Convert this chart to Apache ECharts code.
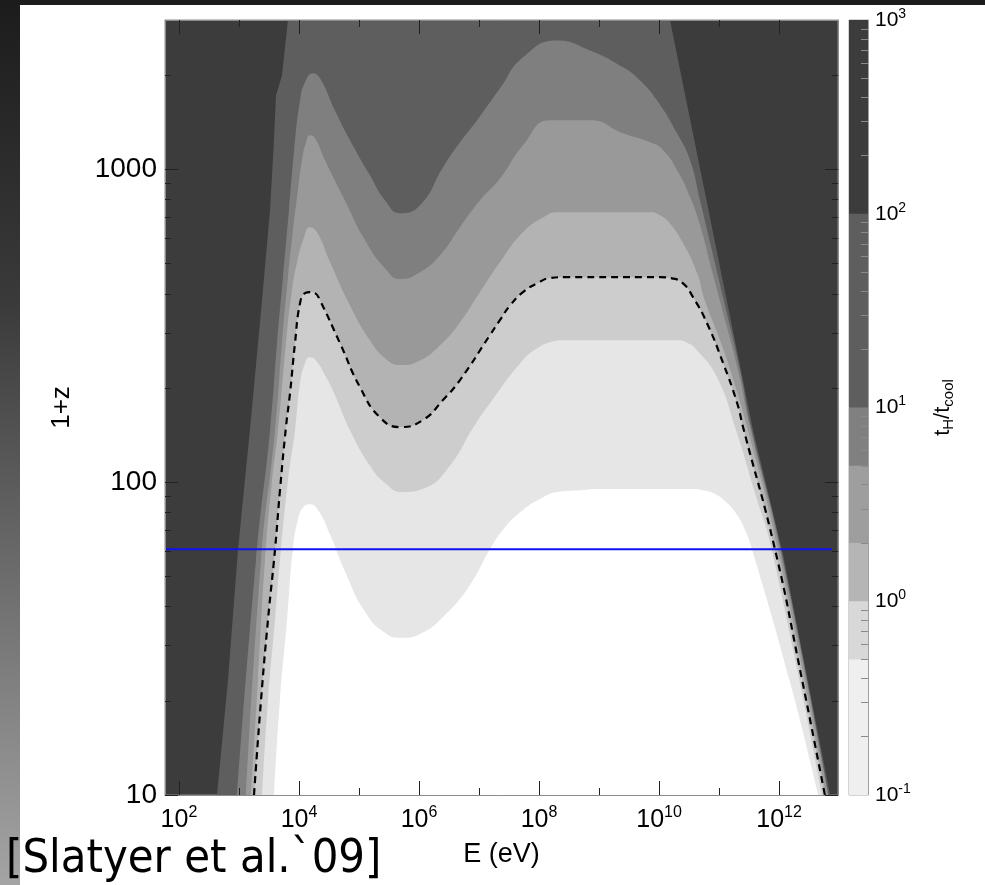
<!DOCTYPE html>
<html>
<head>
<meta charset="utf-8">
<script src="https://cdn.jsdelivr.net/npm/echarts@6/dist/echarts.min.js"></script>
<style>
  html, body { margin: 0; padding: 0; width: 985px; height: 885px; overflow: hidden;
    background: linear-gradient(to bottom, #1c1c1c 0%, #3a3a3a 34%, #5c5c5c 55%, #a4a4a4 100%); }
  #panel { position: absolute; left: 20px; top: 5px; width: 965px; height: 880px; background: #ffffff; }
  #chart { position: absolute; left: 0; top: 0; width: 985px; height: 885px; }
</style>
</head>
<body>
<div id="panel"></div>
<div id="chart"></div>
<script>
// Axis ranges and tick values
const energyMin = 58.5, energyMax = 9.6e12;
const redshiftMin = 10, redshiftMax = 3000;
const energyLabelTicks = [1e2, 1e4, 1e6, 1e8, 1e10, 1e12];
const energyMinorTicks = [1e3, 1e5, 1e7, 1e9, 1e11];
const redshiftLabelTicks = [10, 100, 1000];
const redshiftMinorTicks = [20, 30, 40, 50, 60, 70, 80, 90, 200, 300, 400, 500, 600, 700, 800, 900, 2000];
const ratioLabelTicks = [0.1, 1, 10, 100, 1000];
const ratioMinorTicks = [0.2, 0.3, 0.4, 0.5, 0.6, 0.7, 0.8, 0.9, 2, 3, 4, 5, 6, 7, 8, 9,
  20, 30, 40, 50, 60, 70, 80, 90, 200, 300, 400, 500, 600, 700, 800, 900];
// Contour levels of t_H / t_cool shown in the colour bar
const ratioLevels = [0.1, 0.5, 1, 2, 5, 10, 100, 1000];

// Contours of t_H / t_cool as [E (eV), 1+z] points
const contour100 = [[430, 10], [656, 23.3], [962, 60.7], [1520, 146.6], [2420, 381], [3290, 740],
  [3830, 1239], [4140, 1722], [5200, 1995], [6550, 3000], [1.52e10, 3000], [3.69e11, 146.6],
  [1.17e12, 58.5], [7.1e12, 10]];
const contour10 = [[926, 10], [1920, 56.4], [3290, 146.6], [4300, 278], [5400, 452], [6800, 740],
  [8300, 1151], [1.04e4, 1660], [1.26e4, 1897], [1.71e4, 2028], [2.24e4, 1955], [3.98e4, 1542],
  [7.08e4, 1239], [1.52e5, 957], [2.71e5, 796], [4.82e5, 723], [1.04e6, 767], [2.51e6, 1014],
  [4.82e6, 1219], [9.3e6, 1435], [2.24e7, 1815], [5.4e7, 2280], [2.0e8, 2582], [7.1e8, 2399],
  [2.51e9, 2119], [4.82e9, 1923], [9.3e9, 1660], [2.0e10, 1303], [3.29e10, 1069], [4.82e10, 796],
  [7.6e10, 551], [1.31e11, 355], [2.24e11, 228], [3.41e11, 150], [1.08e12, 60.7], [6.7e12, 10]];
const contour5 = [[1310, 10], [2330, 56.4], [3980, 146.6], [5200, 278], [6550, 452], [7940, 638],
  [9600, 857], [1.12e4, 1069], [1.31e4, 1219], [1.52e4, 1285], [1.85e4, 1256], [2.71e4, 1069],
  [5.8e4, 796], [1.26e5, 593], [2.71e5, 483], [4.82e5, 446], [1.04e6, 469], [2.24e6, 531],
  [4.82e6, 653], [1.04e7, 796], [2.24e7, 935], [5.4e7, 1194], [1.52e8, 1435], [7.1e8, 1435],
  [2.51e9, 1303], [7.1e9, 1219], [1.17e10, 1151], [2.0e10, 993], [3.29e10, 815], [4.82e10, 662],
  [7.6e10, 475], [1.26e11, 330], [2.07e11, 228], [3.29e11, 150], [1.04e12, 60.7], [6.6e12, 10]];
const contour2 = [[1580, 10], [2070, 23.3], [2710, 56.4], [3550, 101], [4470, 146.6], [6070, 278],
  [7640, 410], [9300, 505], [1.17e4, 593], [1.52e4, 653], [2.0e4, 629], [3.29e4, 505], [7.08e4, 367],
  [1.52e5, 284], [2.71e5, 249], [4.82e5, 237], [1.04e6, 245], [2.24e6, 274], [4.82e6, 324],
  [1.04e7, 405], [2.24e7, 505], [5.4e7, 629], [1.26e8, 708], [2.0e8, 729], [7.1e9, 729],
  [1.04e10, 713], [1.52e10, 671], [2.51e10, 581], [4.3e10, 466], [5.8e10, 381], [1.04e11, 284],
  [1.85e11, 204], [2.93e11, 150], [9.6e11, 60.7], [6.1e12, 10]];
const contour1 = [[1780, 10], [2330, 20.1], [3040, 36.2], [3980, 60.7], [4820, 94.2], [6070, 150],
  [7080, 192], [8580, 278], [1.04e4, 373], [1.26e4, 402], [1.52e4, 405], [1.85e4, 402], [2.24e4, 381],
  [4.82e4, 278], [1.04e5, 201], [2.24e5, 161], [4.82e5, 150], [1.17e6, 158], [2.51e6, 183],
  [4.82e6, 212], [1.52e7, 295], [2.24e7, 330], [3.29e7, 367], [5.4e7, 405], [9.3e7, 432],
  [1.52e8, 449], [2.71e8, 452], [1.04e10, 452], [1.65e10, 448], [2.51e10, 432], [3.69e10, 390],
  [6.3e10, 322], [1.17e11, 240], [2.0e11, 179], [2.51e11, 150], [8.6e11, 60.7], [2.24e12, 25.1],
  [5.8e12, 10]];
const contour05 = [[2420, 10], [3040, 20.1], [3980, 36.2], [4820, 56.4], [6550, 101], [8580, 146.6],
  [1.04e4, 207], [1.26e4, 240], [1.52e4, 250.6], [1.92e4, 245], [2.71e4, 220], [3.98e4, 189.7],
  [7.08e4, 146.6], [1.52e5, 113], [2.71e5, 99.3], [5.2e5, 92.9], [1.26e6, 95.7], [3.29e6, 113],
  [7.94e6, 148.9], [1.52e7, 178.6], [5.4e7, 245.5], [9.3e7, 268], [1.52e8, 280], [2.71e8, 284],
  [2.0e10, 284], [3.04e10, 278], [4.3e10, 264], [9.3e10, 216], [1.92e11, 146.6], [3.98e11, 92.2],
  [7.6e11, 60.7], [5.2e12, 10]];
const contour01 = [[3830, 10], [4800, 20], [6300, 36], [7900, 61], [9600, 76], [1.17e4, 83],
  [1.52e4, 85], [2.07e4, 81.5], [3.3e4, 68], [5.8e4, 52], [1.26e5, 38.5], [2.7e5, 33], [5.2e5, 31.8],
  [1.04e6, 32.7], [2.7e6, 37.6], [7.1e6, 47], [1.52e7, 61], [2.71e7, 71.8], [5.4e7, 81.5],
  [1.04e8, 88.3], [2.0e8, 93], [4.82e8, 94.2], [1.04e9, 95], [7.1e9, 95], [3.29e10, 95],
  [5.4e10, 94.2], [8.6e10, 91.6], [1.36e11, 85.7], [2.0e11, 78.5], [2.71e11, 70.3], [3.5e11, 61.5],
  [1.52e12, 23], [4.5e12, 10]];

// Horizontal reference line at 1+z = 61
const horizonLine = [[58.5, 61], [7.6e12, 61]];

// Greys: plot fills from the outermost contour inwards, colour-bar bands from low to high
const plotBackground = '#3c3c3c';
const fillColors = ['#5e5e5e', '#7f7f7f', '#999999', '#b3b3b3', '#cdcdcd', '#e6e6e6', '#ffffff'];
const barColors = ['#efefef', '#d8d8d8', '#b5b5b5', '#9e9e9e', '#808080', '#5e5e5e', '#3c3c3c'];

const FONT = 'Liberation Sans, Arial, Helvetica, sans-serif';
const AXIS_GREY = '#8c8c8c';
const TICK_GREY = '#222222';
const PLOT_RECT = { left: 165, top: 20, width: 673, height: 775 };
const SMOOTH = 0.5;

function powerLabel(v) {
  const e = Math.round(Math.log10(v));
  return '{b|10}{s|' + e + '}';
}

const chart = echarts.init(document.getElementById('chart'), null, { renderer: 'canvas' });

const contours = [contour100, contour10, contour5, contour2, contour1, contour05, contour01];

const series = contours.map((c, i) => ({
  type: 'line',
  xAxisIndex: 0,
  yAxisIndex: 0,
  data: c,
  smooth: i === 0 ? 0 : SMOOTH,
  symbol: 'none',
  lineStyle: { width: 0 },
  areaStyle: { color: fillColors[i], opacity: 1, origin: 'start' },
  silent: true,
  clip: true
}));

// t_H / t_cool = 1 drawn dashed
series.push({
  type: 'line', xAxisIndex: 0, yAxisIndex: 0, data: contour1, smooth: SMOOTH, symbol: 'none',
  lineStyle: { color: '#000000', width: 2.2, type: [7, 5] }, silent: true, clip: true
});
series.push({
  type: 'line', xAxisIndex: 0, yAxisIndex: 0, data: horizonLine, symbol: 'none',
  lineStyle: { color: '#1212ee', width: 2 }, silent: true
});

// Colour bar: paint from the top level down so each band keeps its own grey
for (let i = ratioLevels.length - 1; i >= 1; i--) {
  series.push({
    type: 'line', xAxisIndex: 2, yAxisIndex: 2,
    data: [[0, ratioLevels[i]], [1, ratioLevels[i]]],
    symbol: 'none', lineStyle: { width: 0 },
    areaStyle: { color: barColors[i - 1], opacity: 1, origin: 'start' }, silent: true
  });
}

const energyRich = {
  b: { fontSize: 25, fontFamily: FONT, color: '#000', lineHeight: 30 },
  s: { fontSize: 16, fontFamily: FONT, color: '#000', lineHeight: 14, verticalAlign: 'top' }
};
const ratioRich = {
  b: { fontSize: 21, fontFamily: FONT, color: '#000', lineHeight: 26 },
  s: { fontSize: 14, fontFamily: FONT, color: '#000', lineHeight: 12, verticalAlign: 'top' }
};

// Axis that only draws inward ticks (labels and line off unless given)
function tickAxis(base) {
  const axis = Object.assign({
    z: 6,
    splitLine: { show: false },
    minorTick: { show: false },
    axisLabel: { show: false },
    axisLine: { show: false }
  }, base);
  axis.axisLine = Object.assign({ onZero: false }, axis.axisLine);
  return axis;
}

function energyAxis(grid, position, ticks, length, extra) {
  return tickAxis(Object.assign({
    gridIndex: grid, type: 'log', logBase: 10, min: energyMin, max: energyMax, position: position,
    axisTick: { show: true, inside: true, length: length, customValues: ticks,
      lineStyle: { color: TICK_GREY, width: 1 } }
  }, extra || {}));
}

function redshiftAxis(grid, position, ticks, length, extra) {
  return tickAxis(Object.assign({
    gridIndex: grid, type: 'log', logBase: 10, min: redshiftMin, max: redshiftMax, position: position,
    axisTick: { show: true, inside: true, length: length, customValues: ticks,
      lineStyle: { color: TICK_GREY, width: 1 } }
  }, extra || {}));
}

const axisLine = { show: true, lineStyle: { color: AXIS_GREY, width: 1 } };

const option = {
  animation: false,
  grid: [
    Object.assign({ show: true, backgroundColor: plotBackground, borderColor: AXIS_GREY, borderWidth: 1 }, PLOT_RECT),
    { left: 849, top: 20, width: 19, height: 775, show: true, backgroundColor: 'transparent',
      borderColor: '#a8a8a8', borderWidth: 1 },
    Object.assign({ show: false }, PLOT_RECT)
  ],
  xAxis: [
    energyAxis(0, 'bottom', energyLabelTicks, 14, {
      axisLine: axisLine,
      axisLabel: { show: true, customValues: energyLabelTicks, formatter: powerLabel, rich: energyRich,
        margin: 10 },
      name: 'E (eV)', nameLocation: 'middle', nameGap: 46,
      nameTextStyle: { fontSize: 27, fontFamily: FONT, color: '#000' }
    }),
    energyAxis(0, 'top', energyLabelTicks, 14, { axisLine: axisLine }),
    { gridIndex: 1, type: 'value', min: 0, max: 1, show: false },
    energyAxis(2, 'bottom', energyMinorTicks, 7),
    energyAxis(2, 'top', energyMinorTicks, 7)
  ],
  yAxis: [
    redshiftAxis(0, 'left', redshiftLabelTicks, 13, {
      axisLine: axisLine,
      axisLabel: { show: true, customValues: redshiftLabelTicks, fontSize: 28, fontFamily: FONT,
        color: '#000', margin: 8, formatter: v => String(Math.round(v)) },
      name: '1+z', nameLocation: 'middle', nameGap: 90, nameRotate: 90,
      nameTextStyle: { fontSize: 26, fontFamily: FONT, color: '#000' }
    }),
    redshiftAxis(0, 'right', redshiftLabelTicks, 13, { axisLine: axisLine }),
    tickAxis({
      gridIndex: 1, type: 'log', logBase: 10, min: ratioLevels[0], max: ratioLevels[ratioLevels.length - 1],
      position: 'right',
      axisLine: { show: true, lineStyle: { color: '#a0a0a0', width: 1 } },
      axisTick: { show: true, inside: true, length: 7, customValues: ratioMinorTicks,
        lineStyle: { color: '#8a8a8a', width: 1 } },
      axisLabel: { show: true, customValues: ratioLabelTicks, formatter: powerLabel, rich: ratioRich,
        margin: 7 },
      name: '{t|t}{u|H}{t|/t}{u|cool}', nameLocation: 'middle', nameGap: 62, nameRotate: 90,
      nameTextStyle: {
        rich: {
          t: { fontSize: 22, fontFamily: FONT, color: '#000', lineHeight: 26 },
          u: { fontSize: 15, fontFamily: FONT, color: '#000', lineHeight: 14, verticalAlign: 'bottom' }
        }
      }
    }),
    redshiftAxis(2, 'left', redshiftMinorTicks, 6),
    redshiftAxis(2, 'right', redshiftMinorTicks, 6)
  ],
  graphic: [
    {
      type: 'text', x: 6, y: 860, scaleY: 1.1, silent: true,
      style: { text: '[Slatyer et al.`09]', fontSize: 42, fontFamily: 'DejaVu Sans', fill: '#000',
        verticalAlign: 'middle', align: 'left' }
    }
  ],
  series: series
};

chart.setOption(option);
</script>
</body>
</html>
